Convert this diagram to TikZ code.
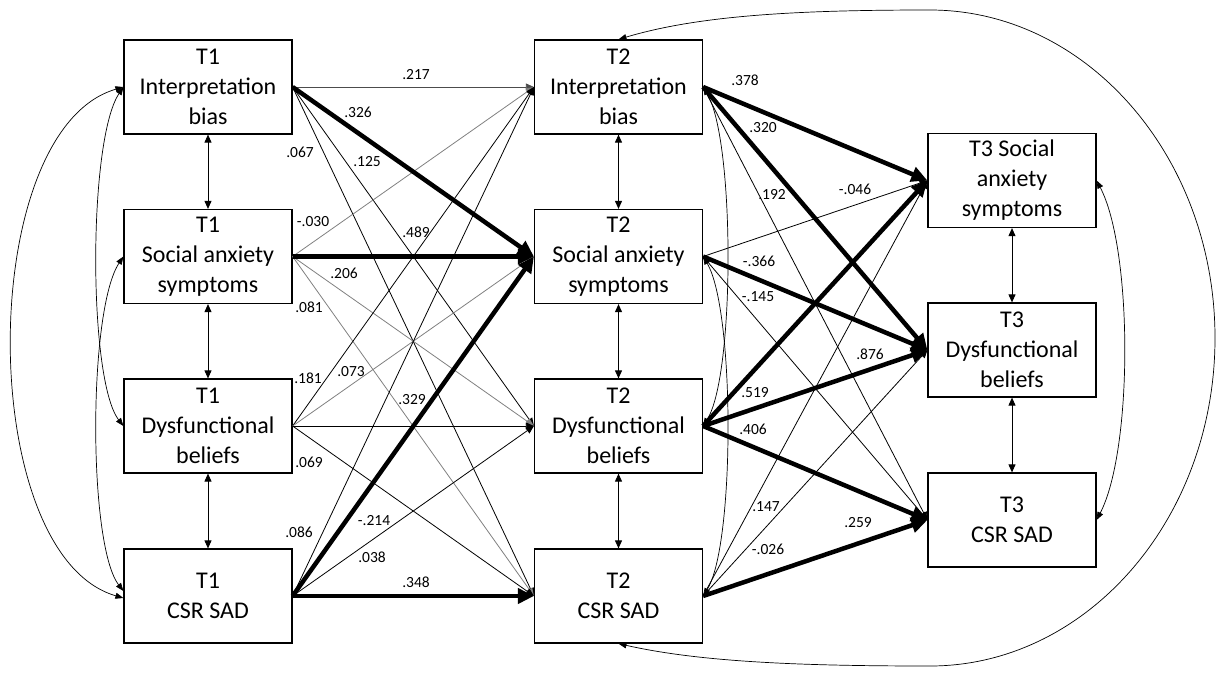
\documentclass[tikz,border=0pt]{standalone}
\usepackage{fontspec}
\setmainfont{Carlito}
\usetikzlibrary{arrows.meta}
\begin{document}
\begin{tikzpicture}[x=1pt,y=-1pt,
 box/.style={draw, line width=1.2pt, minimum width=168pt, minimum height=94pt, align=center, inner sep=0pt, font=\fontsize{24}{30}\selectfont},
 lab/.style={font=\fontsize{15.5}{18}\selectfont, inner sep=0pt},
 thinedge/.style={line width=0.8pt, -{Triangle[length=8pt,width=7pt]}},
 grayedge/.style={thinedge, draw=black!50},
 thickedge/.style={line width=4.5pt, -{Triangle[length=16pt,width=15pt]}},
 vert/.style={line width=0.9pt, {Triangle[length=8pt,width=7pt]}-{Triangle[length=8pt,width=7pt]}},
 cov/.style={line width=0.7pt, {Triangle[length=8pt,width=6pt]}-{Triangle[length=8pt,width=6pt]}}]
\useasboundingbox (0,0) rectangle (1218,672);

% boxes
\node[box] (a1) at (208,87) {T1\\Interpretation\\bias};
\node[box] (a2) at (208,256.5) {T1\\Social anxiety\\symptoms};
\node[box] (a3) at (208,426) {T1\\Dysfunctional\\beliefs};
\node[box] (a4) at (208,596) {T1\\CSR SAD};
\node[box] (b1) at (618.5,87) {T2\\Interpretation\\bias};
\node[box] (b2) at (618.5,256.5) {T2\\Social anxiety\\symptoms};
\node[box] (b3) at (618.5,426) {T2\\Dysfunctional\\beliefs};
\node[box] (b4) at (618.5,596) {T2\\CSR SAD};
\node[box] (c1) at (1012,180.5) {T3 Social\\anxiety\\symptoms};
\node[box] (c2) at (1012,350) {T3\\Dysfunctional\\beliefs};
\node[box] (c3) at (1012,520) {T3\\CSR SAD};

% T1 -> T2 thin
\draw[thinedge, draw=black!70] (a1.east) -- (b1.west);
\draw[thinedge] (a1.east) -- (b3.west);
\draw[thinedge] (a1.east) -- (b4.west);
\draw[grayedge] (a2.east) -- (b1.west);
\draw[grayedge] (a2.east) -- (b3.west);
\draw[grayedge] (a2.east) -- (b4.west);
\draw[thinedge] (a3.east) -- (b1.west);
\draw[grayedge] (a3.east) -- (b2.west);
\draw[thinedge] (a3.east) -- (b3.west);
\draw[thinedge] (a3.east) -- (b4.west);
\draw[thinedge] (a4.east) -- (b1.west);
\draw[thinedge] (a4.east) -- (b3.west);
% T2 -> T3 thin
\draw[thinedge] (b1.east) -- (c3.west);
\draw[thinedge] (b2.east) -- (c1.west);
\draw[thinedge] (b2.east) -- (c3.west);
\draw[thinedge] (b4.east) -- (c1.west);
\draw[thinedge] (b4.east) -- (c2.west);

% covariances
\draw[cov] (a1.west) .. controls (-25,130) and (-25,555) .. ([yshift=-2pt]a4.west);
\draw[cov] (a1.west) .. controls (88,140) and (88,380) .. (a3.west);
\draw[cov] (a2.west) .. controls (88,310) and (88,545) .. ([yshift=5pt]a4.west);
\draw[cov] (b1.east) .. controls (735,140) and (735,375) .. (b3.east);
\draw[cov] (b2.east) .. controls (735,310) and (735,545) .. (b4.east);
\draw[cov] (c1.east) .. controls (1133,250) and (1133,450) .. (c3.east);
\draw[cov] (b1.north) .. controls (700,15) and (800,10) .. (930,10)
  .. controls (1087,10) and (1215,157) .. (1215,338)
  .. controls (1215,519) and (1087,666) .. (930,666)
  .. controls (800,666) and (700,662) .. (b4.south);

% thick
\draw[thickedge] (a1.east) -- (b2.west);
\draw[thickedge] (a2.east) -- (b2.west);
\draw[thickedge] (a4.east) -- (b2.west);
\draw[thickedge] (a4.east) -- (b4.west);
\draw[thickedge] (b1.east) -- (c1.west);
\draw[thickedge] (b1.east) -- (c2.west);
\draw[thickedge] (b2.east) -- (c2.west);
\draw[thickedge] (b3.east) -- (c1.west);
\draw[thickedge] (b3.east) -- (c2.west);
\draw[thickedge] (b3.east) -- (c3.west);
\draw[thickedge] (b4.east) -- (c3.west);

% vertical
\draw[vert] (a1.south) -- (a2.north);
\draw[vert] (a2.south) -- (a3.north);
\draw[vert] (a3.south) -- (a4.north);
\draw[vert] (b1.south) -- (b2.north);
\draw[vert] (b2.south) -- (b3.north);
\draw[vert] (b3.south) -- (b4.north);
\draw[vert] (c1.south) -- (c2.north);
\draw[vert] (c2.south) -- (c3.north);

% labels
\node[lab] (l1) at (416,75) {.217};
\node[lab] (l2) at (358,112) {.326};
\node[lab] (l3) at (300,152) {.067};
\node[lab] (l4) at (367,162) {.125};
\node[lab] (l5) at (313,222) {-.030};
\node[lab] (l6) at (416,232) {.489};
\node[lab] (l7) at (344,273) {.206};
\node[lab] (l8) at (309,307) {.081};
\node[lab] (l9) at (308,378) {.181};
\node[lab] (l10) at (351,372) {.073};
\node[lab] (l11) at (412,400) {.329};
\node[lab] (l12) at (309,462) {.069};
\node[lab] (l13) at (299,532) {.086};
\node[lab] (l14) at (374,521) {-.214};
\node[lab] (l15) at (372,557) {.038};
\node[lab] (l16) at (416,582) {.348};
\node[lab] (l17) at (745,80) {.378};
\node[lab] (l18) at (763,128) {.320};
\node[lab] (l19) at (772,195) {.192};
\node[lab] (l20) at (855,189) {-.046};
\node[lab] (l21) at (759,261) {-.366};
\node[lab] (l22) at (758,297) {-.145};
\node[lab] (l23) at (870,354) {.876};
\node[lab] (l24) at (755,393) {.519};
\node[lab] (l25) at (753,429) {.406};
\node[lab] (l26) at (766,507) {.147};
\node[lab] (l27) at (768,549) {-.026};
\node[lab] (l28) at (858,523) {.259};
\end{tikzpicture}
\end{document}
